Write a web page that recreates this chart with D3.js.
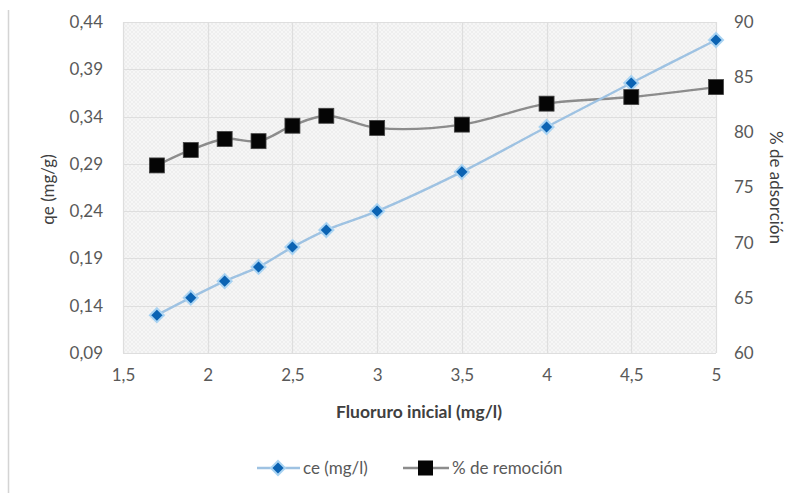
<!DOCTYPE html>
<html>
<head>
<meta charset="utf-8">
<script src="https://cdn.jsdelivr.net/npm/d3@7"></script>
<style>
  html, body { margin: 0; padding: 0; background: #fff; }
  svg { display: block; font-family: Lato, "Open Sans", sans-serif; }
</style>
</head>
<body>
<svg id="chart" width="801" height="493"></svg>
<script>
// Initial fluoride concentration (mg/l)
const fluoruro = [1.7, 1.9, 2.1, 2.3, 2.5, 2.7, 3, 3.5, 4, 4.5, 5];
// Left axis series: ce (mg/l)
const ce = [0.130, 0.1485, 0.166, 0.181, 0.202, 0.220, 0.240, 0.2815, 0.329, 0.3755, 0.421];
// Right axis series: % de remoción
const remocion = [77.0, 78.4, 79.4, 79.2, 80.6, 81.5, 80.4, 80.7, 82.6, 83.2, 84.1];

const xTicks = [1.5, 2, 2.5, 3, 3.5, 4, 4.5, 5];
const leftTicks = [0.09, 0.14, 0.19, 0.24, 0.29, 0.34, 0.39, 0.44];
const rightTicks = [60, 65, 70, 75, 80, 85, 90];

const svg = d3.select("#chart");
const plot = { left: 123, right: 716, top: 22, bottom: 353 };

const x = d3.scaleLinear().domain([1.5, 5]).range([plot.left, plot.right]);
const yL = d3.scaleLinear().domain([0.09, 0.44]).range([plot.bottom, plot.top]);
const yR = d3.scaleLinear().domain([60, 90]).range([plot.bottom, plot.top]);

const fmt = d3.formatLocale({ decimal: ",", thousands: ".", grouping: [3], currency: ["", ""] });
const f2 = fmt.format(".2f");
const fx = v => String(v).replace(".", ",");

// Chart frame line on the left
svg.append("line").attr("x1", 8.5).attr("x2", 8.5).attr("y1", 10).attr("y2", 493)
  .attr("stroke", "#d4d4d4").attr("stroke-width", 1.5);

// Subtle textured fill for the plot area
const defs = svg.append("defs");
const pat = defs.append("pattern").attr("id", "hatch").attr("patternUnits", "userSpaceOnUse")
  .attr("width", 4).attr("height", 4);
pat.append("rect").attr("width", 4).attr("height", 4).attr("fill", "#f6f6f6");
pat.append("path").attr("d", "M0,4 L4,0 M0,0 L4,4").attr("stroke", "#ececec").attr("stroke-width", 0.8);

svg.append("rect").attr("x", plot.left).attr("y", plot.top)
  .attr("width", plot.right - plot.left).attr("height", plot.bottom - plot.top)
  .attr("fill", "url(#hatch)");

// Gridlines
const grid = svg.append("g").attr("stroke", "#dedede").attr("stroke-width", 1.2);
grid.selectAll("line.h").data(leftTicks).join("line")
  .attr("x1", plot.left).attr("x2", plot.right)
  .attr("y1", d => Math.round(yL(d)) + 0.5).attr("y2", d => Math.round(yL(d)) + 0.5);
grid.selectAll("line.v").data(xTicks).join("line")
  .attr("y1", plot.top).attr("y2", plot.bottom)
  .attr("x1", d => Math.round(x(d)) + 0.5).attr("x2", d => Math.round(x(d)) + 0.5);

// Axes (labels only, Excel style)
const axisText = "#595959";
const titleText = "#404040";
const gL = svg.append("g").attr("transform", `translate(${plot.left - 17},0)`)
  .call(d3.axisLeft(yL).tickValues(leftTicks).tickFormat(f2).tickSize(0));
const gR = svg.append("g").attr("transform", `translate(${plot.right + 15},0)`)
  .call(d3.axisRight(yR).tickValues(rightTicks).tickFormat(d => d).tickSize(0));
const gX = svg.append("g").attr("transform", `translate(0,${plot.bottom + 13})`)
  .call(d3.axisBottom(x).tickValues(xTicks).tickFormat(fx).tickSize(0));
[gL, gR, gX].forEach(g => {
  g.select(".domain").remove();
  g.selectAll("text").attr("fill", axisText).attr("font-size", 17)
    .attr("font-family", "Lato, 'Open Sans', sans-serif");
});

// Axis titles
svg.append("text").attr("transform", `translate(54,${(plot.top + plot.bottom) / 2 + 2}) rotate(-90)`)
  .attr("text-anchor", "middle").attr("fill", titleText).attr("font-size", 17).text("qe (mg/g)");
svg.append("text").attr("transform", `translate(770,${(plot.top + plot.bottom) / 2}) rotate(90)`)
  .attr("text-anchor", "middle").attr("fill", titleText).attr("font-size", 17).text("% de adsorción");
svg.append("text").attr("x", 419).attr("y", 418)
  .attr("text-anchor", "middle").attr("fill", titleText).attr("font-size", 17.5).attr("font-weight", "bold")
  .text("Fluoruro inicial (mg/l)");

// Series lines
const lineCe = d3.line().x((d, i) => x(fluoruro[i])).y(d => yL(d)).curve(d3.curveCatmullRom.alpha(0.5));
const lineRem = d3.line().x((d, i) => x(fluoruro[i])).y(d => yR(d)).curve(d3.curveCatmullRom.alpha(0.5));

svg.append("path").datum(remocion).attr("d", lineRem)
  .attr("fill", "none").attr("stroke", "#8c8c8c").attr("stroke-width", 2.4);
svg.append("path").datum(ce).attr("d", lineCe)
  .attr("fill", "none").attr("stroke", "#9ec2e2").attr("stroke-width", 2.4);

// Markers
const diamond = d3.symbol().type(d3.symbolDiamond2).size(125);
svg.append("g").selectAll("path").data(ce).join("path")
  .attr("transform", (d, i) => `translate(${x(fluoruro[i])},${yL(d)})`)
  .attr("d", diamond).attr("fill", "#0b63b3").attr("stroke", "#a9d3f2").attr("stroke-width", 2);

svg.append("g").selectAll("rect").data(remocion).join("rect")
  .attr("x", (d, i) => x(fluoruro[i]) - 7.5).attr("y", d => yR(d) - 7.5)
  .attr("width", 15).attr("height", 15)
  .attr("fill", "#050505").attr("stroke", "#444").attr("stroke-width", 0.8);

// Legend
const leg = svg.append("g").attr("font-size", 17).attr("fill", axisText);
const legY = 468;
leg.append("line").attr("x1", 257).attr("x2", 300).attr("y1", legY).attr("y2", legY)
  .attr("stroke", "#9ec2e2").attr("stroke-width", 2.4);
leg.append("path").attr("transform", `translate(278,${legY})`).attr("d", diamond)
  .attr("fill", "#0b63b3").attr("stroke", "#a9d3f2").attr("stroke-width", 2);
leg.append("text").attr("x", 303).attr("y", legY + 6).text("ce (mg/l)");

leg.append("line").attr("x1", 403).attr("x2", 449).attr("y1", legY).attr("y2", legY)
  .attr("stroke", "#8c8c8c").attr("stroke-width", 2.4);
leg.append("rect").attr("x", 418).attr("y", legY - 7.5).attr("width", 15).attr("height", 15)
  .attr("fill", "#050505");
leg.append("text").attr("x", 452).attr("y", legY + 6).text("% de remoción");
</script>
</body>
</html>
